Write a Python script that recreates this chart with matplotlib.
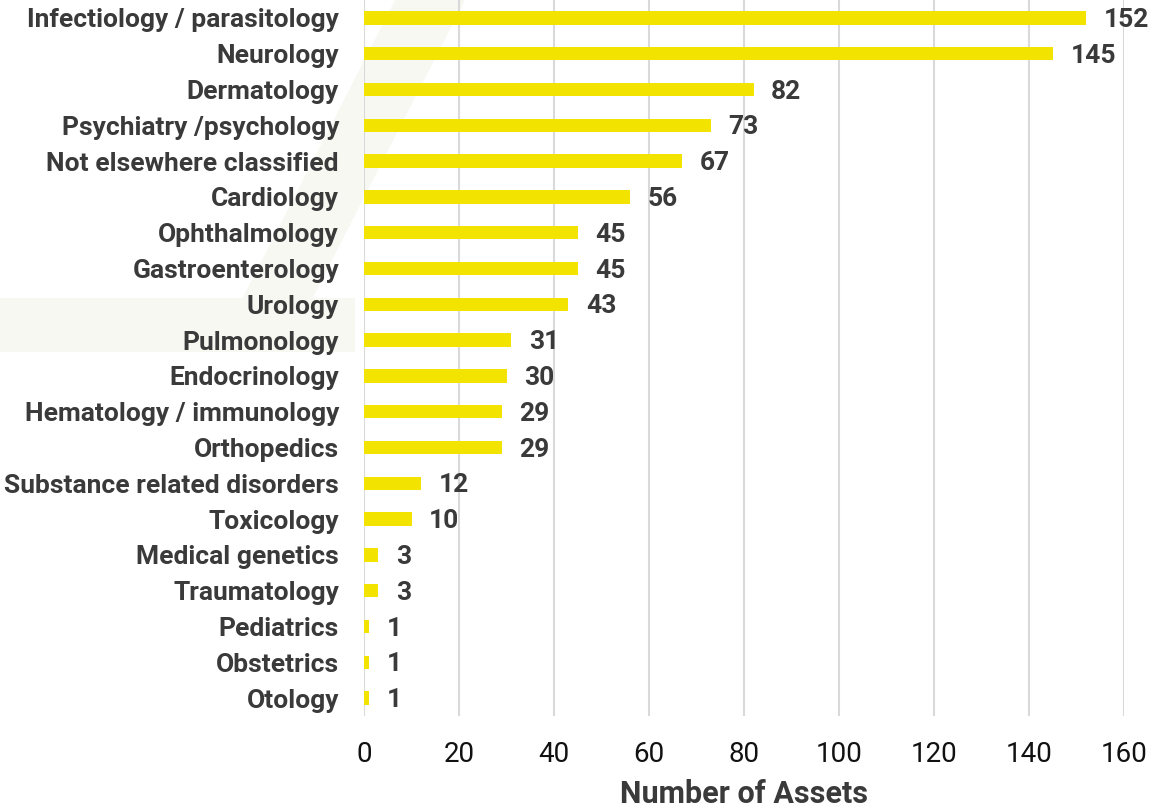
import matplotlib
matplotlib.use("Agg")
import matplotlib.pyplot as plt
from matplotlib.patches import Polygon

categories = ["Infectiology / parasitology", "Neurology", "Dermatology", "Psychiatry /psychology",
              "Not elsewhere classified", "Cardiology", "Ophthalmology", "Gastroenterology", "Urology",
              "Pulmonology", "Endocrinology", "Hematology / immunology", "Orthopedics",
              "Substance related disorders", "Toxicology", "Medical genetics", "Traumatology",
              "Pediatrics", "Obstetrics", "Otology"]
values = [152, 145, 82, 73, 67, 56, 45, 45, 43, 31, 30, 29, 29, 12, 10, 3, 3, 1, 1, 1]
xticks = [0, 20, 40, 60, 80, 100, 120, 140, 160]

W, H = 1153, 810
fig = plt.figure(figsize=(W / 100, H / 100), dpi=100)

# faint background watermark
bg = "#f8f8f3"
fig.patches.append(Polygon([(395 / W, 1.0), (465 / W, 1.0), (285 / W, 1 - 352 / H), (215 / W, 1 - 352 / H)],
                           closed=True, transform=fig.transFigure, facecolor=bg, edgecolor="none", zorder=-10))
fig.patches.append(Polygon([(0, 1 - 298 / H), (355 / W, 1 - 298 / H), (355 / W, 1 - 352 / H), (0, 1 - 352 / H)],
                           closed=True, transform=fig.transFigure, facecolor=bg, edgecolor="none", zorder=-10))

ax = fig.add_axes([364 / W, 1 - 716 / H, (1124 - 364) / W, 716 / H])
ax.patch.set_alpha(0)
ax.set_zorder(1)

txt = "#3a3a3a"
y = list(range(len(categories)))
ax.barh(y, values, height=0.37, color="#f2e300", zorder=3)
ax.set_ylim(len(categories) - 0.5, -0.5)
ax.set_xlim(0, 160)
ax.set_yticks(y)
ax.set_yticklabels(categories, fontfamily="Roboto", fontweight="bold", fontsize=19, color=txt)
ax.set_xticks(xticks)
ax.set_xticklabels([str(t) for t in xticks], fontfamily="Roboto", fontsize=20, color="#111111")
ax.tick_params(axis="both", length=0)
ax.tick_params(axis="y", pad=18)
ax.tick_params(axis="x", pad=18)
for s in ax.spines.values():
    s.set_visible(False)
ax.grid(axis="x", color="#d9d9d9", linewidth=1.5, zorder=0)
ax.set_axisbelow(True)

for yi, v in zip(y, values):
    ax.text(v + 3.7, yi + 0.06, str(v), va="center", ha="left", fontfamily="Roboto",
            fontweight="bold", fontsize=19, color=txt, zorder=4)

ax.set_xlabel("Number of Assets", fontfamily="Roboto", fontweight="bold",
              fontsize=22, color=txt, labelpad=8)

fig.savefig("out.png", dpi=100)
